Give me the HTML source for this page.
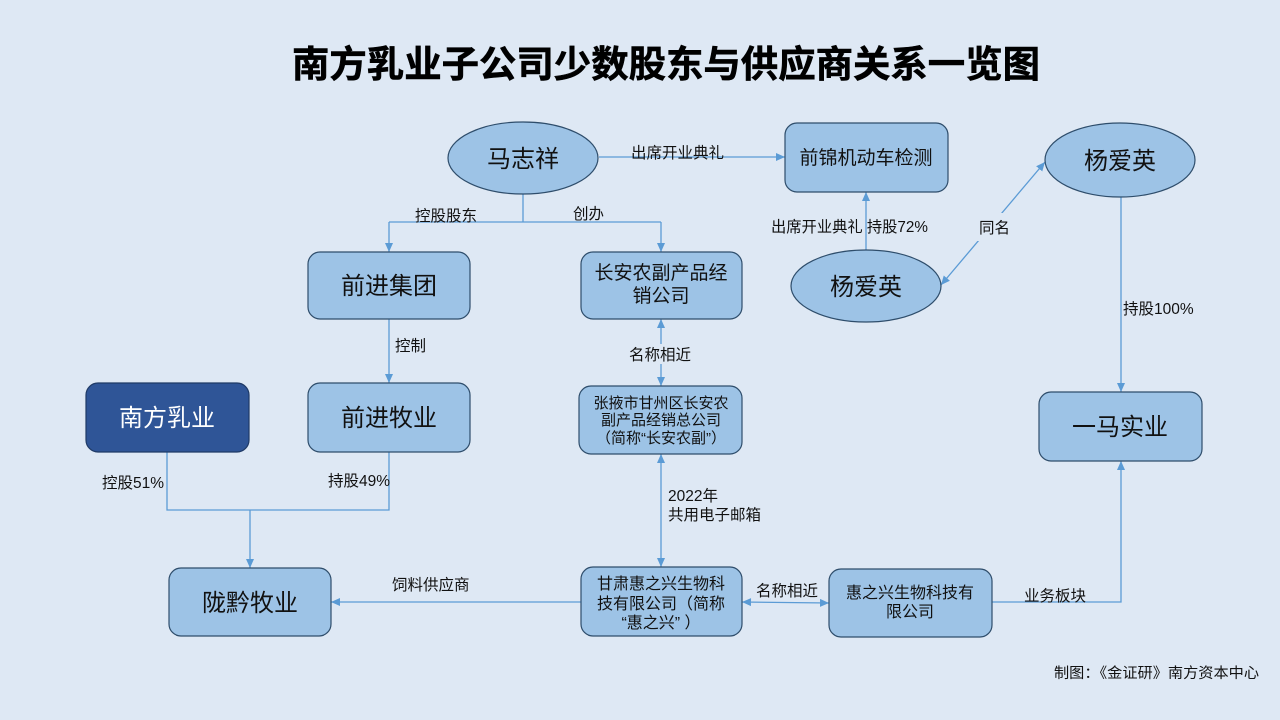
<!DOCTYPE html>
<html><head><meta charset="utf-8"><style>
html,body{margin:0;padding:0;background:#dee8f4;}
svg{display:block;}
text{font-family:"Liberation Sans","Noto Sans CJK SC",sans-serif;fill:#111;}
</style></head><body>
<svg width="1280" height="720" viewBox="0 0 1280 720" xmlns="http://www.w3.org/2000/svg">
<defs>
<marker id="ae" markerUnits="userSpaceOnUse" markerWidth="10" markerHeight="10" refX="9" refY="4" orient="auto">
<path d="M0,0 L9,4 L0,8 z" fill="#5b9bd5"/></marker>
<marker id="as" markerUnits="userSpaceOnUse" markerWidth="10" markerHeight="10" refX="0" refY="4" orient="auto">
<path d="M9,0 L0,4 L9,8 z" fill="#5b9bd5"/></marker>
</defs>
<rect width="1280" height="720" fill="#dee8f4"/>
<text x="292" y="77" font-size="37" font-weight="bold" textLength="748" lengthAdjust="spacingAndGlyphs" style="fill:#000;stroke:#000;stroke-width:0.6">南方乳业子公司少数股东与供应商关系一览图</text>

<g stroke="#5b9bd5" stroke-width="1.3" fill="none">
<line x1="599" y1="157" x2="785" y2="157" marker-end="url(#ae)"/>
<polyline points="523,194 523,222"/>
<line x1="389" y1="222" x2="661" y2="222"/>
<line x1="389" y1="222" x2="389" y2="252" marker-end="url(#ae)"/>
<line x1="661" y1="222" x2="661" y2="252" marker-end="url(#ae)"/>
<line x1="389" y1="319" x2="389" y2="383" marker-end="url(#ae)"/>
<polyline points="167,452 167,510 389,510 389,452"/>
<line x1="250" y1="510" x2="250" y2="568" marker-end="url(#ae)"/>
<line x1="581" y1="602" x2="331" y2="602" marker-end="url(#ae)"/>
<line x1="661" y1="319" x2="661" y2="386" marker-start="url(#as)" marker-end="url(#ae)"/>
<line x1="661" y1="454" x2="661" y2="567" marker-start="url(#as)" marker-end="url(#ae)"/>
<line x1="742" y1="602" x2="829" y2="603" marker-start="url(#as)" marker-end="url(#ae)"/>
<polyline points="992,602 1121,602 1121,461" marker-end="url(#ae)"/>
<line x1="1121" y1="197" x2="1121" y2="392" marker-end="url(#ae)"/>
<line x1="866" y1="250" x2="866" y2="192" marker-end="url(#ae)"/>
<line x1="941" y1="285" x2="1045" y2="162" marker-start="url(#as)" marker-end="url(#ae)"/>
</g>
<!-- label backgrounds -->
<rect x="626" y="344" width="70" height="20" fill="#dee8f4"/>
<rect x="975" y="213" width="40" height="28" fill="#dee8f4"/>

<g fill="#9dc3e6" stroke="#2e4d6b" stroke-width="1.2">
<rect x="785" y="123" width="163" height="69" rx="12"/>
<rect x="581" y="252" width="161" height="67" rx="12"/>
<rect x="308" y="252" width="162" height="67" rx="12"/>
<rect x="308" y="383" width="162" height="69" rx="12"/>
<rect x="169" y="568" width="162" height="68" rx="12"/>
<rect x="579" y="386" width="163" height="68" rx="12"/>
<rect x="581" y="567" width="161" height="69" rx="12"/>
<rect x="829" y="569" width="163" height="68" rx="12"/>
<rect x="1039" y="392" width="163" height="69" rx="12"/>
<ellipse cx="523" cy="158" rx="75" ry="36"/>
<ellipse cx="1120" cy="160" rx="75" ry="37"/>
<ellipse cx="866" cy="286" rx="75" ry="36"/>
</g>
<rect x="86" y="383" width="163" height="69" rx="12" fill="#2f5597" stroke="#1f3a66" stroke-width="1.2"/>

<g text-anchor="middle">
<text x="523" y="167" font-size="24">马志祥</text>
<text x="1120" y="169" font-size="24">杨爱英</text>
<text x="866" y="295" font-size="24">杨爱英</text>
<text x="866" y="164" font-size="19">前锦机动车检测</text>
<text x="661" y="279" font-size="19">长安农副产品经</text>
<text x="661" y="302" font-size="19">销公司</text>
<text x="389" y="294" font-size="24">前进集团</text>
<text x="389" y="426" font-size="24">前进牧业</text>
<text x="167" y="426" font-size="24" style="fill:#fff">南方乳业</text>
<text x="250" y="611" font-size="24">陇黔牧业</text>
<text x="1120" y="435" font-size="24">一马实业</text>
<text x="661" y="408" font-size="15">张掖市甘州区长安农</text>
<text x="661" y="425" font-size="15">副产品经销总公司</text>
<text x="661" y="443" font-size="15">（简称“长安农副”）</text>
<text x="661" y="589" font-size="16">甘肃惠之兴生物科</text>
<text x="661" y="609" font-size="16">技有限公司（简称</text>
<text x="661" y="628" font-size="16">“惠之兴” ）</text>
<text x="910" y="598" font-size="16">惠之兴生物科技有</text>
<text x="910" y="617" font-size="16">限公司</text>
</g>

<g font-size="15.5">
<text x="631" y="158">出席开业典礼</text>
<text x="415" y="221">控股股东</text>
<text x="573" y="219">创办</text>
<text x="395" y="351">控制</text>
<text x="629" y="360">名称相近</text>
<text x="668" y="501">2022年</text>
<text x="668" y="520">共用电子邮箱</text>
<text x="756" y="596">名称相近</text>
<text x="392" y="590">饲料供应商</text>
<text x="102" y="488">控股51%</text>
<text x="328" y="486">持股49%</text>
<text x="771" y="232" textLength="157" lengthAdjust="spacingAndGlyphs">出席开业典礼 持股72%</text>
<text x="979" y="233">同名</text>
<text x="1123" y="314">持股100%</text>
<text x="1024" y="601">业务板块</text>
<text x="1054" y="678" font-size="14.5" textLength="205" lengthAdjust="spacingAndGlyphs">制图：《金证研》南方资本中心</text>
</g>
</svg>
</body></html>
